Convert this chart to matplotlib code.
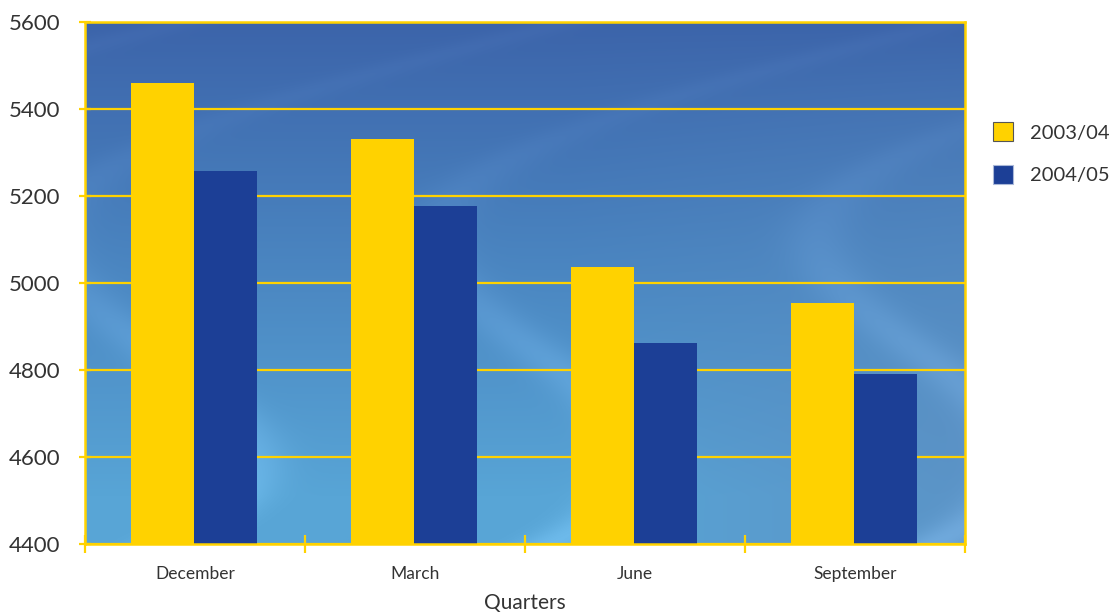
import numpy as np
import matplotlib
matplotlib.use("Agg")
import matplotlib.pyplot as plt
from matplotlib.patches import Patch

plt.rcParams['font.family'] = ['Lato', 'DejaVu Sans']

categories = ["December", "March", "June", "September"]
series_names = ["2003/04", "2004/05"]
values_2003 = [5460, 5330, 5037, 4955]
values_2004 = [5258, 5178, 4862, 4791]
yticks = [4400, 4600, 4800, 5000, 5200, 5400, 5600]

YELLOW = "#FFD200"
BLUE = "#1C3F96"
TEXT = "#333333"

fig = plt.figure(figsize=(11.12, 6.12), dpi=100)
ax = fig.add_axes([85/1112, 68/612, 880/1112, 522/612])

# background gradient with soft streaks
h, w = 300, 500
yy, xx = np.mgrid[0:1:h*1j, 0:1:w*1j]
top = np.array([60, 100, 170]) / 255
low = np.array([88, 165, 214]) / 255
right = np.array([92, 140, 192]) / 255
t = np.clip(yy * 1.1, 0, 1)[..., None]
base = top * (1 - t) + low * t
r = np.clip((xx - 0.55) / 0.45, 0, 1)[..., None] * np.clip(yy * 1.3, 0, 1)[..., None]
base = base * (1 - r * 0.7) + right * r * 0.7
streak = 0.5 + 0.5 * np.sin(18 * (xx * 0.8 + 0.25 * np.sin(5 * yy) + yy * 0.6))
streak = (streak ** 12) * 0.08 * np.clip(yy, 0.2, 1)
base = np.clip(base + streak[..., None], 0, 1)
ax.imshow(base, extent=[-0.5, 3.5, 4400, 5600], aspect='auto', zorder=0, interpolation='bilinear')

x = np.arange(len(categories))
bw = 0.287
ax.bar(x - bw/2 - 0.005, values_2003, bw, color=YELLOW, zorder=3, label=series_names[0])
ax.bar(x + bw/2 - 0.005, values_2004, bw, color=BLUE, zorder=3, label=series_names[1])

ax.set_xlim(-0.5, 3.5)
ax.set_ylim(4400, 5600)
ax.set_yticks(yticks)
ax.set_yticklabels([str(v) for v in yticks], fontsize=16, color=TEXT)
ax.yaxis.grid(True, color=YELLOW, linewidth=1.6, zorder=2)
ax.set_axisbelow(False)
for s in ax.spines.values():
    s.set_color(YELLOW)
    s.set_linewidth(1.8)
    s.set_zorder(4)

ax.set_xticks(np.arange(-0.5, 4.0, 1.0))
ax.set_xticklabels([])
ax.set_xticks(x, minor=True)
ax.set_xticklabels(categories, minor=True, fontsize=12.5, color=TEXT)
ax.tick_params(axis='x', which='major', length=13, width=1.6, color=YELLOW, direction='inout')
ax.tick_params(axis='x', which='minor', length=0, pad=16)
ax.tick_params(axis='y', length=9, width=1.6, color=YELLOW, direction='inout', pad=13)
ax.set_xlabel("Quarters", fontsize=15, color=TEXT, labelpad=8)

handles = [Patch(facecolor=YELLOW, edgecolor='#555555', linewidth=0.8),
           Patch(facecolor=BLUE, edgecolor='#aab8d8', linewidth=0.8)]
fig.legend(handles, series_names, loc='upper left', bbox_to_anchor=(993/1112, 1 - 122/612),
           frameon=False, prop={'size': 14.5}, handlelength=1.0, handleheight=1.1,
           labelspacing=1.15, handletextpad=0.85, borderpad=0, borderaxespad=0, labelcolor=TEXT)

fig.savefig("out.png", dpi=100)
